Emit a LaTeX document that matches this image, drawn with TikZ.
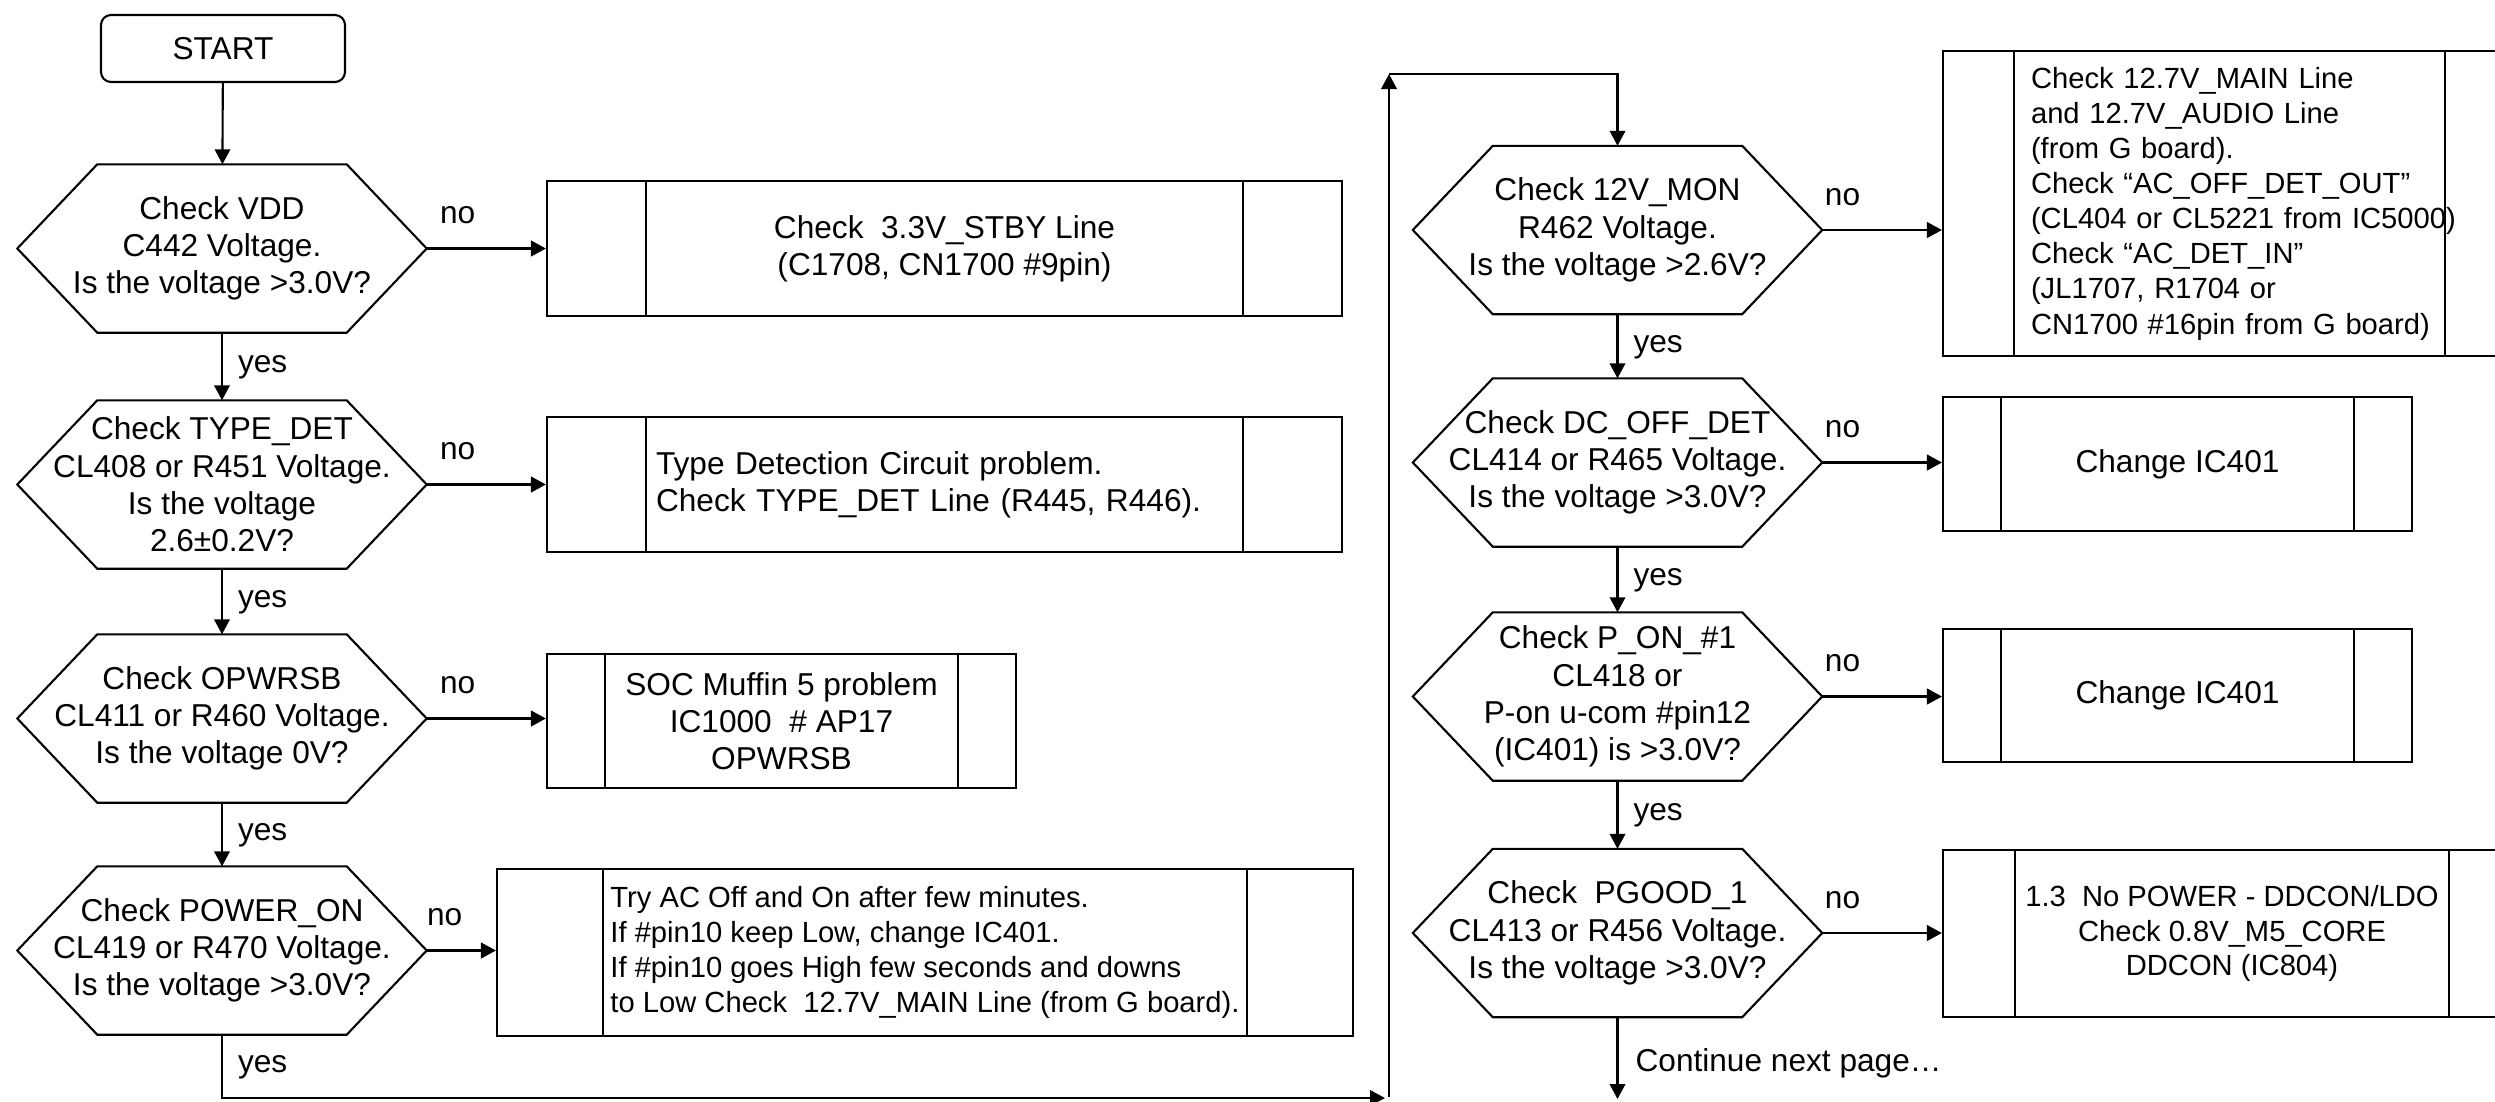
\documentclass[tikz,border=0pt]{standalone}
\usepackage{fontspec}
\setmainfont{Liberation Sans}
\usetikzlibrary{arrows.meta}
\usetikzlibrary{calc}

\tikzset{
  txt/.style={font=\fontsize{9}{10.6}\selectfont},
  small/.style={font=\fontsize{8.3}{10}\selectfont},
  startbox/.style={draw,line width=0.6pt,rounded corners=1mm,minimum width=24.4mm,minimum height=6.7mm,txt},
  decision/.style={minimum width=40.8mm,minimum height=16.7mm,inner sep=0pt,align=center,txt},
  procbox/.style={draw,line width=0.6pt,inner sep=0pt,align=center,txt},
  arr/.style={line width=0.6pt,-{Triangle[length=1.5mm,width=1.55mm]}},
  noarr/.style={arr,line width=0.75pt},
  nolab/.style={anchor=base,inner sep=0pt,yshift=2.5mm,txt},
  yeslab/.style={anchor=base west,inner sep=0pt,xshift=1.5mm,yshift=-0.6mm,txt}
}

\begin{document}
\begin{tikzpicture}[x=0.1mm,y=-0.1mm]
        \useasboundingbox (0,0) rectangle (2495,1101);
        \clip (0,0) rectangle (2495,1101);

        \node[startbox] (start) at (223,48.5) {START};
        \node[decision] (d1) at (222,248.5) {Check VDD\\C442 Voltage.\\Is the voltage >3.0V?};
        \node[decision] (d2) at (222,484.5) {Check TYPE\_DET\\CL408 or R451 Voltage.\\Is the voltage\\2.6±0.2V?};
        \node[decision] (d3) at (222,718.5) {Check OPWRSB\\CL411 or R460 Voltage.\\Is the voltage 0V?};
        \node[decision] (d4) at (222,950.5) {Check POWER\_ON\\CL419 or R470 Voltage.\\Is the voltage >3.0V?};
        \node[decision] (d5) at (1617.5,230) {Check 12V\_MON\\R462 Voltage.\\Is the voltage >2.6V?};
        \node[decision] (d6) at (1617.5,462.5) {Check DC\_OFF\_DET\\CL414 or R465 Voltage.\\Is the voltage >3.0V?};
        \node[decision] (d7) at (1617.5,696.5) {Check P\_ON\_\#1\\CL418 or\\P-on u-com \#pin12\\(IC401) is >3.0V?};
        \node[decision] (d8) at (1617.5,933) {Check~~PGOOD\_1\\CL413 or R456 Voltage.\\Is the voltage >3.0V?};

        \foreach \i in {1,...,8}
            \draw[line width=0.6pt] (d\i.west) -- ($(d\i.north west)+(80,0)$) -- ($(d\i.north east)+(-80,0)$) -- (d\i.east)
                -- ($(d\i.south east)+(-80,0)$) -- ($(d\i.south west)+(80,0)$) -- cycle;

        \node[procbox,minimum width=79.5mm,minimum height=13.5mm] (b1) at (944.5,248.5) {Check~~3.3V\_STBY Line\\(C1708, CN1700 \#9pin)};
        \node[procbox,minimum width=79.5mm,minimum height=13.5mm,text width=57.7mm,align=left] (b2) at (944.5,484.5) {Type Detection Circuit problem.\\Check TYPE\_DET Line (R445, R446).};
        \node[procbox,minimum width=46.9mm,minimum height=13.4mm] (b3) at (781.5,721) {SOC Muffin 5 problem\\IC1000~~\# AP17\\OPWRSB};
        \node[procbox,small,minimum width=85.6mm,minimum height=16.7mm,align=left] (b4) at (925,952.5) {Try AC Off and On after few minutes.\\If \#pin10 keep Low, change IC401.\\If \#pin10 goes High few seconds and downs\\to Low Check~~12.7V\_MAIN Line (from G board).};
        \node[procbox,small,minimum width=57.3mm,minimum height=30.5mm,text width=39.7mm,align=left] (b5) at (2229.5,203.5) {Check 12.7V\_MAIN Line\\and 12.7V\_AUDIO Line\\(from G board).\\Check “AC\_OFF\_DET\_OUT”\\\mbox{(CL404 or CL5221 from IC5000)}\\Check “AC\_DET\_IN”\\(JL1707, R1704 or\\\mbox{CN1700 \#16pin from G board)}};
        \node[procbox,minimum width=46.9mm,minimum height=13.4mm] (b6) at (2177.5,464) {Change IC401};
        \node[procbox,minimum width=46.9mm,minimum height=13.3mm] (b7) at (2177.5,695.5) {Change IC401};
        \node[procbox,font=\fontsize{8.3}{9.8}\selectfont,minimum width=57.8mm,minimum height=16.7mm] (b8) at (2232,933.5) {1.3~~No POWER - DDCON/LDO\\Check 0.8V\_M5\_CORE\\DDCON (IC804)};

        \foreach \b/\o in {b1/100,b2/100,b3/59,b4/107,b5/72,b6/59,b7/59,b8/73}
            \draw[line width=0.6pt] ($(\b.north west)+(\o,0)$) -- ($(\b.south west)+(\o,0)$)
                ($(\b.north east)+(-\o,0)$) -- ($(\b.south east)+(-\o,0)$);

        \coordinate (loopa) at (1385,1098);
        \coordinate (loopb) at (1389,1097);
        \coordinate (loopc) at (1389,74);
        \coordinate (cont) at (1617.5,1099);

        \draw[arr] (start) -- (d1);
        \draw[arr] (d1) -- node[yeslab]{yes} (d2);
        \draw[arr] (d2) -- node[yeslab]{yes} (d3);
        \draw[arr] (d3) -- node[yeslab]{yes} (d4);
        \draw[arr] (d4.south) -- node[yeslab]{yes} (d4.south |- loopa) -- (loopa);
        \draw[arr] (loopb) -- (loopc);
        \draw[arr] (loopc) -| (d5);
        \draw[arr] (d5) -- node[yeslab]{yes} (d6);
        \draw[arr] (d6) -- node[yeslab]{yes} (d7);
        \draw[arr] (d7) -- node[yeslab]{yes} (d8);
        \draw[arr] (d8) -- node[yeslab,xshift=0.2mm,yshift=-0.7mm]{Continue next page…} (cont);

        \draw[noarr] (d1.east) -- node[nolab,pos=.26]{no} (d1.east -| b1.west);
        \draw[noarr] (d2.east) -- node[nolab,pos=.26]{no} (d2.east -| b2.west);
        \draw[noarr] (d3.east) -- node[nolab,pos=.26]{no} (d3.east -| b3.west);
        \draw[noarr] (d4.east) -- node[nolab,pos=.26]{no} (d4.east -| b4.west);
        \draw[noarr] (d5.east) -- node[nolab,pos=.17]{no} (d5.east -| b5.west);
        \draw[noarr] (d6.east) -- node[nolab,pos=.17]{no} (d6.east -| b6.west);
        \draw[noarr] (d7.east) -- node[nolab,pos=.17]{no} (d7.east -| b7.west);
        \draw[noarr] (d8.east) -- node[nolab,pos=.17]{no} (d8.east -| b8.west);
\end{tikzpicture}
\end{document}
